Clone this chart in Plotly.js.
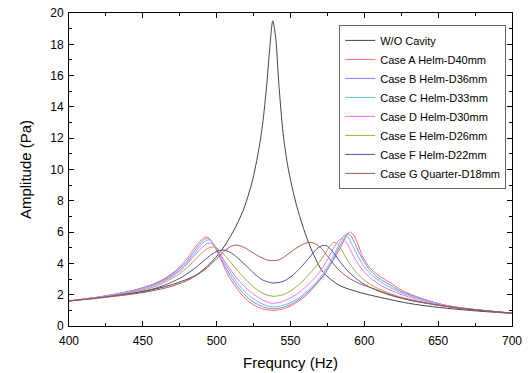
<!DOCTYPE html>
<html>
<head>
<meta charset="utf-8">
<script src="https://cdn.plot.ly/plotly-3.0.1.min.js"></script>
<style>html,body{margin:0;padding:0;background:#fff;}#chart{width:532px;height:373px;}</style>
</head>
<body>
<div id="chart"></div>
<script>
// Series names
const seriesNames = ["W/O Cavity","Case A Helm-D40mm","Case B Helm-D36mm","Case C Helm-D33mm","Case D Helm-D30mm","Case E Helm-D26mm","Case F Helm-D22mm","Case G Quarter-D18mm"];

// W/O Cavity
const freqWO = [400,425,450,470,486,495,503,511,518,524,528,531,534,536,538,540,542,545,548,551,555,560,565,572,583,595,605,630,651,675,700];
const ampWO  = [1.6,1.9,2.2,2.65,3.25,3.95,4.8,6.0,7.4,9.2,11.0,12.8,15.5,17.8,19.5,18.4,15.6,12.3,10.3,8.9,7.4,5.9,4.7,3.45,2.6,2.2,1.95,1.45,1.18,0.97,0.8];

// Case A
const freqA = [400,420,440,455,465,473,479,484,488,491,493,495,498,501,504,508,513,517,522,528,533,538,543,549,555,561,566,572,577,583,587,590,592,595,599,604,610,617,625,632,639,647,655,665,680,690,700];
const ampA  = [1.6,1.85,2.2,2.6,3.05,3.6,4.2,4.85,5.35,5.62,5.7,5.6,5.2,4.6,4.0,3.2,2.5,2.0,1.55,1.2,1.05,1.0,1.05,1.23,1.55,2.0,2.5,3.15,3.9,4.85,5.6,6.0,5.9,5.4,4.4,3.7,3.2,2.8,2.3,2.0,1.75,1.5,1.32,1.17,1.0,0.9,0.82];

// Case B
const freqB = [400,420,440,455,465,474,480,485,489,492,494,496,499,502,505,509,514,518,523,529,534,538,543,549,555,561,567,573,578,582,586,588.5,591,594,598,603,609,616,624,632,640,648,656,666,680,700];
const ampB  = [1.6,1.85,2.2,2.58,3.0,3.6,4.15,4.8,5.3,5.55,5.6,5.45,5.05,4.5,3.95,3.25,2.55,2.1,1.65,1.32,1.15,1.1,1.15,1.33,1.65,2.1,2.65,3.35,4.1,4.85,5.55,5.9,5.75,5.2,4.4,3.65,3.1,2.7,2.25,1.95,1.72,1.5,1.3,1.15,1.0,0.82];

// Case C
const freqC = [400,420,440,455,465,474,480,486,490,493,495,497,500,503,506,510,515,519,524,530,534,538,543,549,555,561,567,572,577,581,584.5,587,589,592,596,601,607,614,622,630,638,646,655,665,680,700];
const ampC  = [1.6,1.84,2.18,2.55,2.95,3.5,4.05,4.75,5.25,5.45,5.5,5.35,4.95,4.45,3.95,3.3,2.65,2.2,1.8,1.45,1.3,1.22,1.28,1.45,1.75,2.2,2.75,3.35,4.1,4.85,5.55,5.85,5.7,5.15,4.4,3.65,3.1,2.65,2.25,1.95,1.72,1.52,1.32,1.16,1.0,0.82];

// Case D
const freqD = [400,420,440,455,465,475,481,487,491,494,496,498,501,504,508,512,517,522,527,532,538,544,550,556,562,568,573,577,581,584.5,587,590,594,599,605,612,620,628,636,645,655,665,680,700];
const ampD  = [1.6,1.83,2.15,2.5,2.9,3.5,4.05,4.7,5.1,5.28,5.3,5.15,4.8,4.35,3.8,3.25,2.7,2.25,1.9,1.62,1.45,1.55,1.8,2.15,2.65,3.25,3.9,4.6,5.25,5.6,5.45,4.95,4.25,3.55,3.0,2.55,2.2,1.92,1.7,1.5,1.32,1.16,1.0,0.82];

// Case E
const freqE = [400,420,440,455,465,475,482,488,493,496,498,500,503,507,511,516,521,526,531,538,545,551,557,563,569,574,577,579,581,584,588,593,599,606,614,622,630,640,650,662,680,700];
const ampE  = [1.6,1.82,2.1,2.42,2.8,3.35,3.9,4.5,4.9,5.03,5.05,4.98,4.75,4.35,3.9,3.35,2.85,2.42,2.1,1.9,2.0,2.3,2.75,3.35,4.0,4.7,5.15,5.33,5.3,4.95,4.3,3.6,3.0,2.55,2.2,1.92,1.72,1.52,1.35,1.18,1.0,0.82];

// Case F
const freqF = [400,420,440,455,465,475,484,491,497,501,504,507,511,516,521,526,531,538,545,551,557,563,568,571,573,575,579,584,590,597,605,614,623,632,642,652,665,680,700];
const ampF  = [1.6,1.8,2.05,2.32,2.62,3.05,3.6,4.15,4.6,4.8,4.85,4.8,4.6,4.2,3.75,3.3,2.95,2.75,2.85,3.2,3.75,4.4,4.95,5.12,5.15,5.1,4.7,4.05,3.4,2.85,2.42,2.08,1.82,1.62,1.45,1.3,1.13,0.98,0.82];

// Case G
const freqG = [400,420,440,455,470,482,492,500,506,510,513,516,520,525,530,535,538,542,547,552,557,561,564,567,571,576,582,589,597,606,616,627,640,655,670,685,700];
const ampG  = [1.6,1.78,2.0,2.22,2.55,3.0,3.6,4.3,4.85,5.1,5.17,5.12,4.95,4.65,4.38,4.2,4.17,4.22,4.5,4.85,5.15,5.32,5.34,5.25,4.95,4.35,3.65,3.1,2.7,2.4,2.05,1.75,1.5,1.25,1.08,0.95,0.82];

const freqs = [freqWO,freqA,freqB,freqC,freqD,freqE,freqF,freqG];
const amps  = [ampWO,ampA,ampB,ampC,ampD,ampE,ampF,ampG];
const colors = ['#444444','#ff6b6b','#8585ff','#66c8c8','#ff6bff','#a8a845','#5050b8','#b05555'];

const traces = seriesNames.map((n,i)=>({
  x: freqs[i], y: amps[i], name: n, type:'scatter', mode:'lines',
  line:{color:colors[i], width:1, shape:'spline', smoothing:0.8}
}));

const axisCommon = {
  showline:true, linecolor:'#000', linewidth:1, mirror:'ticks',
  ticks:'inside', ticklen:5, tickcolor:'#000', tickwidth:1,
  showgrid:false, zeroline:false,
  tickfont:{family:'Liberation Sans, Arial, sans-serif', size:12, color:'#000'}
};

const layout = {
  width:532, height:373,
  margin:{l:69, r:20, t:13, b:47},
  paper_bgcolor:'#fff', plot_bgcolor:'#fff',
  font:{family:'Liberation Sans, Arial, sans-serif', color:'#000'},
  xaxis: Object.assign({}, axisCommon, {
    range:[400,700], dtick:50, tick0:400, ticklabelstandoff:4,
    minor:{ticks:'inside', ticklen:3, dtick:25, tickcolor:'#000'},
    title:{text:'Frequncy (Hz)', font:{size:15}, standoff:10}
  }),
  yaxis: Object.assign({}, axisCommon, {
    range:[0,20], dtick:2, tick0:0, ticklabelstandoff:2,
    minor:{ticks:'inside', ticklen:3, dtick:1, tickcolor:'#000'},
    title:{text:'Amplitude (Pa)', font:{size:15}, standoff:14}
  }),
  showlegend:true,
  legend:{
    x:0.61, y:0.962, xanchor:'left', yanchor:'top',
    bordercolor:'#666', borderwidth:1, bgcolor:'#fff',
    font:{size:11, color:'#000'}, tracegroupgap:0
  }
};

Plotly.newPlot('chart', traces, layout, {displayModeBar:false, staticPlot:true});
</script>
</body>
</html>
